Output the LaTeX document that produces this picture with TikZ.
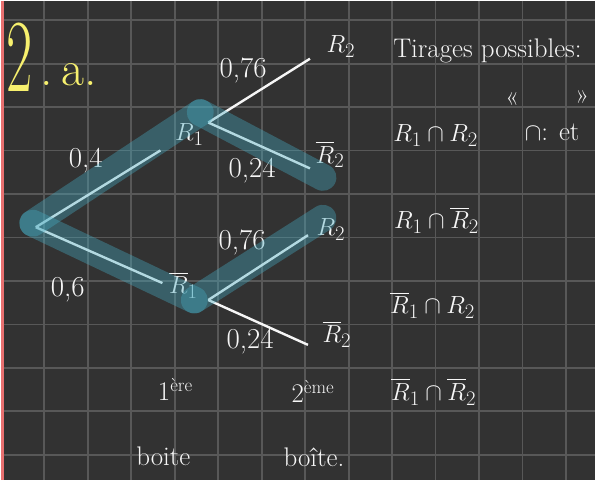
\documentclass[tikz,border=0pt]{standalone}
\usepackage{fontspec}
\usepackage{amsmath}
\usetikzlibrary{positioning}
\definecolor{board}{RGB}{50,50,50}
\definecolor{gridline}{RGB}{88,88,88}
\definecolor{chalk}{RGB}{246,246,246}
\definecolor{marker}{RGB}{70,170,192}
\definecolor{yellowink}{RGB}{247,240,110}
\definecolor{margin}{RGB}{232,112,112}
\tikzset{
	branch/.style={draw=chalk, line width=2.4pt},
	hilite/.style={draw=marker, line width=27pt, line cap=round, opacity=0.38},
	state/.style={text=chalk, inner sep=1pt, font=\fontsize{28}{30}\selectfont},
	prob/.style={text=chalk, inner sep=1pt, font=\fontsize{29}{30}\selectfont},
	note/.style={text=chalk, inner sep=1pt, font=\fontsize{27}{29}\selectfont}
}

\begin{document}
\begin{tikzpicture}[x=1pt, y=-1pt]
	% --- Board ---
	\fill[board] (0,0) rectangle (596,481);
	\foreach \k in {1,...,13} \draw[gridline, line width=1.8pt] (43.6*\k,0) -- (43.6*\k,481);
	\foreach \j in {0,...,10} \draw[gridline, line width=1.8pt] (0,19.3+43.6*\j) -- (596,19.3+43.6*\j);
	\fill[margin] (0,0) rectangle (3,481);
	
	% --- Title ---
	\node[text=yellowink, inner sep=0pt, font=\fontsize{104}{104}\selectfont] (num) at (19,57) {\scalebox{0.55}[1]{2}};
	\node[text=yellowink, inner sep=0pt, font=\fontsize{50}{50}\selectfont] (part) at (68,74) {.\,a.};
	
	% --- Tree ---
	\coordinate (root) at (35,227);
	% Box 1
	\node[state] (R1) at (189,134) {$R_1$};
	\node[state] (nR1) at (183,285) {$\overline{R}_1$};
	\coordinate (e1) at (160,150);
	\coordinate (v1) at (208,122);
	\coordinate (e2) at (162,283);
	\coordinate (v2) at (208,300);
	% Box 2
	\node[state] (R2a) at (341,46) {$R_2$};
	\node[state] (nR2a) at (330,154) {$\overline{R}_2$};
	\node[state] (R2b) at (331,229) {$R_2$};
	\node[state] (nR2b) at (337,334) {$\overline{R}_2$};
	\coordinate (a1) at (310,58);
	\coordinate (b1) at (310,168);
	\coordinate (a2) at (308,235);
	\coordinate (b2) at (308,345);
	
	\draw[branch] (root) -- (e1);
	\draw[branch] (root) -- (e2);
	\draw[branch] (v1) -- (a1);
	\draw[branch] (v1) -- (b1);
	\draw[branch] (v2) -- (a2);
	\draw[branch] (v2) -- (b2);
	
	% Probabilities
	\node[prob] (p4) at (85,160) {0,4};
	\node[prob] (p6) at (67,290) {0,6};
	\node[prob] (p76a) at (243,70) {0,76};
	\node[prob] (p24a) at (252,170) {0,24};
	\node[prob] (p76b) at (242,242) {0,76};
	\node[prob] (p24b) at (250,342) {0,24};
	
	% Highlighted path
	\coordinate (hr) at (32,223);
	\coordinate (h1) at (200,112);
	\coordinate (h1b) at (323,177);
	\coordinate (h2) at (194,300);
	\coordinate (h2a) at (323,218);
	\draw[hilite] (hr) -- (h1);
	\draw[hilite] (h1) -- (h1b);
	\draw[hilite] (hr) -- (h2);
	\draw[hilite] (h2) -- (h2a);
	
	% --- Outcomes ---
	\node[note] (head) at (488,50) {Tirages possibles:};
	\node[note] (ql) at (513,98) {«};
	\node[note] (qr) at (583,96) {»};
	\node[note] (cap) at (553,132) {$\cap$: et};
	\node[state] (o1) at (436,135) {$R_1\cap R_2$};
	\node[state] (o2) at (437,220) {$R_1\cap\overline{R}_2$};
	\node[state] (o3) at (433,305) {$\overline{R}_1\cap R_2$};
	\node[state] (o4) at (434,392) {$\overline{R}_1\cap\overline{R}_2$};
	
	% --- Boxes ---
	\node[note] (first) at (175,390) {1\textsuperscript{ère}};
	\node[note] (box1) at (163,457) {boite};
	\node[note] (second) at (313,392) {2\textsuperscript{ème}};
	\node[note] (box2) at (314,458) {boîte.};
\end{tikzpicture}
\end{document}
